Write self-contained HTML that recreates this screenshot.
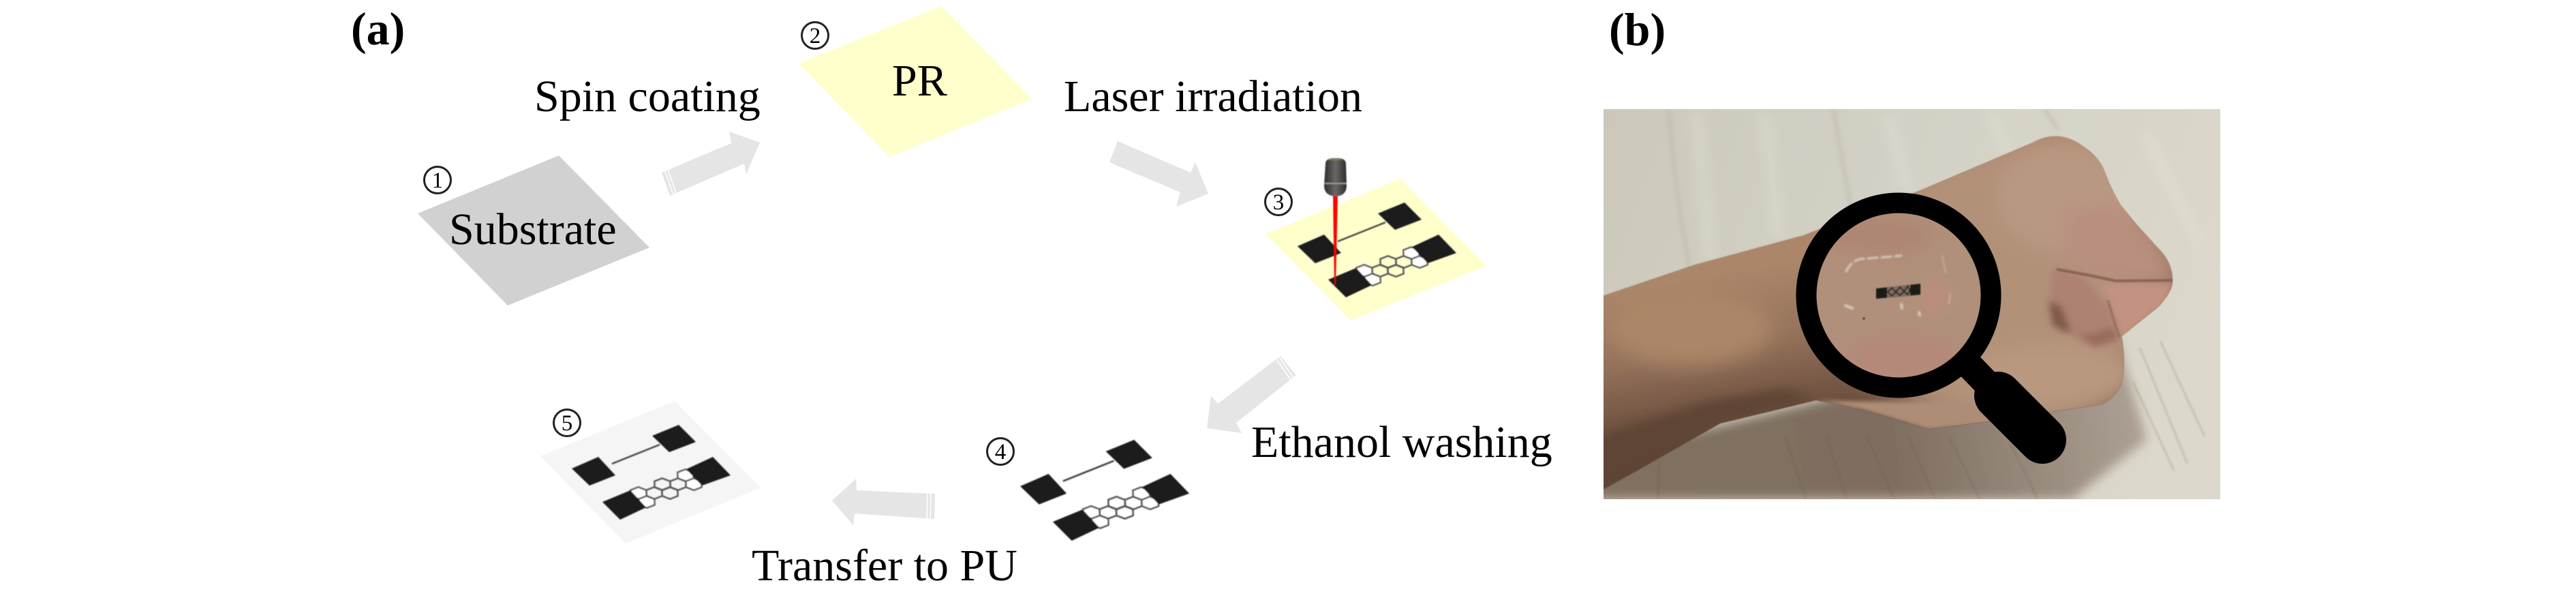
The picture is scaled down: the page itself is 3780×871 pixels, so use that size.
<!DOCTYPE html>
<html lang="en">
<head>
<meta charset="utf-8">
<title>Fabrication process and wrist photo</title>
<style>
html,body{margin:0;padding:0;background:#fff;width:3780px;height:871px;overflow:hidden}
svg{display:block}
text{font-family:"Liberation Serif",serif;fill:#000}
.l{font-size:66px}
.h{font-size:68px;font-weight:bold}
.n{font-size:33px;text-anchor:middle;font-family:"Liberation Serif",serif}
</style>
</head>
<body>
<svg xmlns="http://www.w3.org/2000/svg" width="3780" height="871" viewBox="0 0 3780 871" xmlns:xlink="http://www.w3.org/1999/xlink">
<defs>
  <filter id="b06" x="-5%" y="-5%" width="110%" height="110%"><feGaussianBlur stdDeviation="0.7"/></filter>
  <filter id="b1" x="-20%" y="-20%" width="140%" height="140%"><feGaussianBlur stdDeviation="1.2"/></filter>
  <filter id="b3" x="-30%" y="-30%" width="160%" height="160%"><feGaussianBlur stdDeviation="3"/></filter>
  <filter id="b5" x="-30%" y="-30%" width="160%" height="160%"><feGaussianBlur stdDeviation="5"/></filter>
  <filter id="b8" x="-30%" y="-30%" width="160%" height="160%"><feGaussianBlur stdDeviation="8"/></filter>
  <filter id="b14" x="-40%" y="-40%" width="180%" height="180%"><feGaussianBlur stdDeviation="14"/></filter>
  <filter id="b30" x="-50%" y="-50%" width="200%" height="200%"><feGaussianBlur stdDeviation="30"/></filter>
  <linearGradient id="floor" gradientUnits="userSpaceOnUse" x1="2353" y1="160" x2="3258" y2="500">
    <stop offset="0" stop-color="#cbc8bb"/><stop offset=".45" stop-color="#d3d1c5"/><stop offset="1" stop-color="#dcd8cb"/>
  </linearGradient>
  <linearGradient id="shadow" gradientUnits="userSpaceOnUse" x1="2353" y1="700" x2="3130" y2="600">
    <stop offset="0" stop-color="#80705f"/><stop offset=".55" stop-color="#7f6e61"/><stop offset="1" stop-color="#aa9f92"/>
  </linearGradient>
  <linearGradient id="skin" gradientUnits="userSpaceOnUse" x1="2520" y1="400" x2="2560" y2="640">
    <stop offset="0" stop-color="#ab866a"/><stop offset=".45" stop-color="#94715a"/><stop offset="1" stop-color="#5f4536"/>
  </linearGradient>
  <linearGradient id="obj" x1="0" y1="0" x2="1" y2="0">
    <stop offset="0" stop-color="#2e2c2b"/><stop offset=".5" stop-color="#6a6765"/><stop offset="1" stop-color="#2e2c2b"/>
  </linearGradient>
  <clipPath id="ph"><rect x="2353" y="160" width="905" height="572"/></clipPath>
  <clipPath id="armc"><path d="M2345 436L2487 388L2646 345L2818 279L2983 209Q3020 188 3056 214Q3078 228 3087 248Q3098 278 3112 301L3136 330L3167 364Q3188 385 3188 410Q3190 425 3167 450L3113 493Q3120 530 3113 563Q3100 587 3083 593L3013 603L2922 617L2830 629L2738 602L2665 587L2524 621L2420 680L2345 722Z"/></clipPath>
  <clipPath id="lens"><circle cx="2786" cy="433" r="121"/></clipPath>

  <polygon id="hx" points="11.7,4.3 0.3,8.7 -11.3,4.3 -11.7,-4.3 -0.3,-8.7 11.3,-4.3"/>
  <g id="dev">
    <g fill="#fff" stroke="#555" stroke-width="2.4">
      <use href="#hx" xlink:href="#hx" x="98" y="36"/>
      <use href="#hx" xlink:href="#hx" x="110" y="49"/>
      <use href="#hx" xlink:href="#hx" x="179" y="23"/>
      <use href="#hx" xlink:href="#hx" x="167" y="10"/>
    </g>
    <g fill="none" stroke="#555" stroke-width="2.4">
      <use href="#hx" xlink:href="#hx" x="121" y="36"/>
      <use href="#hx" xlink:href="#hx" x="133" y="23"/>
      <use href="#hx" xlink:href="#hx" x="144" y="36"/>
      <use href="#hx" xlink:href="#hx" x="156" y="23"/>
    </g>
    <line x1="59" y1="-7" x2="129" y2="-35" stroke="#444" stroke-width="2.5"/>
    <g fill="#1b1b1b">
      <polygon points="0,0 39,-17 64,10 26,25"/>
      <polygon points="118,-48 157,-64 182,-39 143,-24"/>
      <polygon points="45,49 86,32 109,57 71,75"/>
      <polygon points="168,1 207,-17 233,10 191,25"/>
    </g>
  </g>
</defs>

<rect width="3780" height="871" fill="#fff"/>

<!-- Panel a: substrates -->
<polygon points="613,313 820,228 953,363 745,448" fill="#d1d1d1"/>
<polygon points="1172,93 1381,9 1514,145 1305,230" fill="#ffffcc"/>
<polygon points="1857,343 2055,262 2181,390 1982,470" fill="#ffffcc"/>
<polygon points="793,669 990,588 1116,715 918,797" fill="#f5f5f5"/>

<!-- Arrows -->
<g fill="#e5e5e5">
  <polygon points="971,253 1073,210 1070,193 1115,209 1095,256 1092,240 983,287"/>
  <polygon points="1640,207 1747,253 1754,238 1773,284 1726,303 1732,282 1628,238"/>
  <polygon points="1879,522 1787,592 1777,580 1771,628 1822,635 1814,620 1902,550"/>
  <polygon points="1372,724 1257,719 1256,702 1221,734 1252,770 1254,753 1371,761"/>
</g>
<g stroke="#fff" stroke-width="1.6">
  <line x1="976" y1="251" x2="988" y2="285"/>
  <line x1="980" y1="249" x2="992" y2="283"/>
  <line x1="1634" y1="205" x2="1622" y2="236"/>
  <line x1="1638" y1="207" x2="1626" y2="238"/>
  <line x1="1874" y1="519" x2="1898" y2="554"/>
  <line x1="1870" y1="522" x2="1894" y2="557"/>
  <line x1="1366" y1="724" x2="1365" y2="761"/>
  <line x1="1361" y1="724" x2="1360" y2="761"/>
</g>

<!-- Devices -->
<use xlink:href="#dev" href="#dev" transform="translate(1904 361)" filter="url(#b06)"/>
<use xlink:href="#dev" href="#dev" transform="translate(1497 713) scale(1.065)" filter="url(#b06)"/>
<use xlink:href="#dev" href="#dev" transform="translate(839 687)" filter="url(#b06)"/>

<!-- Objective and beam -->
<polygon points="1956,287 1963,287 1960,418 1958,418" fill="#f00" filter="url(#b06)"/>
<g filter="url(#b06)">
  <path d="M1945 240Q1945 233 1955 232L1965 232Q1975 233 1975 240L1976 272Q1976 287 1960 288Q1943 287 1943 272Z" fill="url(#obj)"/>
  <rect x="1944" y="268" width="32" height="2" fill="#9a9895"/>
  <rect x="1950" y="233" width="18" height="2" fill="#8a7a50"/>
</g>

<!-- Step numbers -->
<g fill="none" stroke="#222" stroke-width="3">
  <circle cx="642" cy="264" r="19.5"/>
  <circle cx="1196" cy="52" r="19.5"/>
  <circle cx="1876" cy="296" r="19.5"/>
  <circle cx="1468" cy="662" r="19.5"/>
  <circle cx="832" cy="620" r="19.5"/>
</g>
<text class="n" x="642" y="275">1</text>
<text class="n" x="1196" y="63">2</text>
<text class="n" x="1876" y="307">3</text>
<text class="n" x="1468" y="673">4</text>
<text class="n" x="832" y="631">5</text>

<!-- Labels -->
<text class="h" x="515" y="65">(a)</text>
<text class="h" x="2361" y="66">(b)</text>
<text class="l" x="784" y="163">Spin coating</text>
<text class="l" x="659" y="358">Substrate</text>
<text class="l" x="1309" y="140">PR</text>
<text class="l" x="1561" y="163">Laser irradiation</text>
<text class="l" x="1836" y="670">Ethanol washing</text>
<text class="l" x="1103" y="851">Transfer to PU</text>

<!-- Panel b: photo -->
<g clip-path="url(#ph)">
  <rect x="2353" y="160" width="905" height="572" fill="url(#floor)"/>
  <g fill="none" stroke="#b9b6a8" stroke-width="6" opacity=".45" filter="url(#b3)">
    <path d="M2448 160L2462 290L2480 400"/>
    <path d="M2690 160L2715 300"/>
    <path d="M3000 160L3020 190"/>
  </g>
  <g fill="none" stroke="#e2e1d6" stroke-width="16" opacity=".45" filter="url(#b8)">
    <path d="M2490 165L2510 380"/>
    <path d="M2590 165L2610 350"/>
    <path d="M2770 165L2800 280"/>
    <path d="M2920 165L2950 230"/>
    <path d="M3150 200L3230 360"/>
  </g>
  <polygon points="2340,732 2340,700 2420,650 2700,580 3105,495 3125,560 3150,645 3040,732" fill="url(#shadow)" filter="url(#b8)"/>
  <g stroke="#5e4f44" stroke-width="3" opacity=".16" filter="url(#b1)">
    <line x1="2435" y1="680" x2="2432" y2="732"/>
    <line x1="2620" y1="640" x2="2650" y2="732"/>
    <line x1="2680" y1="640" x2="2710" y2="732"/>
    <line x1="2740" y1="640" x2="2780" y2="732"/>
    <line x1="2800" y1="640" x2="2840" y2="732"/>
    <line x1="2860" y1="640" x2="2905" y2="732"/>
    <line x1="2950" y1="650" x2="2990" y2="732"/>
    <line x1="3130" y1="560" x2="3190" y2="690"/>
    <line x1="3170" y1="500" x2="3235" y2="640"/>
    <line x1="3140" y1="510" x2="3210" y2="680"/>
  </g>
  <path d="M2345 436L2487 388L2646 345L2818 279L2983 209Q3020 188 3056 214Q3078 228 3087 248Q3098 278 3112 301L3136 330L3167 364Q3188 385 3188 410Q3190 425 3167 450L3113 493Q3120 530 3113 563Q3100 587 3083 593L3013 603L2922 617L2830 629L2738 602L2665 587L2524 621L2420 680L2345 722Z" fill="url(#skin)" filter="url(#b06)"/>
  <g clip-path="url(#armc)">
    <ellipse cx="2950" cy="430" rx="220" ry="230" fill="#b29179" filter="url(#b30)"/>
    <ellipse cx="3030" cy="290" rx="100" ry="80" fill="#b99882" filter="url(#b14)"/>
    <ellipse cx="2480" cy="480" rx="120" ry="55" fill="#ab8668" filter="url(#b14)"/>
    <ellipse cx="3010" cy="550" rx="120" ry="45" fill="#b99880" filter="url(#b14)"/>
    <path d="M2665 587L2524 621L2420 680L2345 722L2345 640L2500 590L2620 570Z" fill="#5e4535" filter="url(#b8)"/>
    <path d="M2665 587L2738 602L2830 629L2922 617L2900 590L2800 590Z" fill="#ad8d76" filter="url(#b3)"/>
    <!-- fist -->
    <path d="M3030 310L3105 300L3170 370L3190 412L3105 412L3030 385Z" fill="#b98f80" filter="url(#b14)"/>
    <path d="M3085 418L3188 414L3180 445L3113 495L3100 455Z" fill="#c49280" filter="url(#b5)"/>
    <path d="M3014 392L3056 405L3095 450L3108 497L3075 508L3045 495L3022 470L3008 430Z" fill="#ae8172" filter="url(#b5)"/>
    <path d="M3006 440L3024 450L3040 490L3012 478Z" fill="#80584a" filter="url(#b5)"/>
    <path d="M3050 492L3075 508L3108 497L3100 480L3070 490Z" fill="#9a6c5c" filter="url(#b5)"/>
    <path d="M3018 395Q3060 402 3105 412L3188 411" fill="none" stroke="#7d5546" stroke-width="3" filter="url(#b1)"/>
    <path d="M3093 440L3102 470L3110 495" fill="none" stroke="#946a5a" stroke-width="3" filter="url(#b1)"/>
  </g>
  <!-- lens interior -->
  <g clip-path="url(#lens)">
    <circle cx="2786" cy="433" r="125" fill="#b0907a"/>
    <ellipse cx="2790" cy="525" rx="90" ry="35" fill="#b5887a" filter="url(#b14)"/>
    <ellipse cx="2760" cy="345" rx="80" ry="30" fill="#ae8672" filter="url(#b14)"/>
    <ellipse cx="2838" cy="435" rx="22" ry="24" fill="#bb8d7b" filter="url(#b8)"/>
    <g fill="none" stroke="#e7e0d5" stroke-linecap="round" filter="url(#b1)">
      <path d="M2709 398Q2715 385 2728 380L2790 375" stroke-width="3" stroke-dasharray="14 6" opacity=".75"/>
      <path d="M2850 375L2855 400" stroke-width="2" opacity=".35"/>
      <path d="M2708 448L2718 452" stroke-width="4" opacity=".7"/>
      <path d="M2790 446L2791 452" stroke-width="4" opacity=".7"/>
      <path d="M2816 458L2817 462" stroke-width="4" opacity=".7"/>
      <path d="M2862 430L2860 445" stroke-width="2" opacity=".4"/>
    </g>
    <circle cx="2735" cy="467" r="2" fill="#6b5648"/>
    <!-- tiny sensor -->
    <g filter="url(#b06)">
      <polygon points="2753,423 2818,416 2818,432 2753,438" fill="#1f1a18"/>
      <polygon points="2769,421 2803,418 2803,434 2769,437" fill="#7d6a5e"/>
      <g stroke="#231d1b" stroke-width="1.8" fill="none">
        <path d="M2770 428L2776 422L2782 428L2776 434Z"/>
        <path d="M2782 428L2788 421L2794 427L2788 433Z"/>
        <path d="M2794 427L2799 420L2803 426L2799 432Z"/>
      </g>
    </g>
  </g>
  <!-- magnifier -->
  <circle cx="2786" cy="433" r="135.5" fill="none" stroke="#000" stroke-width="30"/>
  <line x1="2888" y1="534" x2="2925" y2="572" stroke="#000" stroke-width="40"/>
  <line x1="2932" y1="580" x2="2997" y2="645" stroke="#000" stroke-width="70" stroke-linecap="round"/>
</g>
</svg>
</body>
</html>
